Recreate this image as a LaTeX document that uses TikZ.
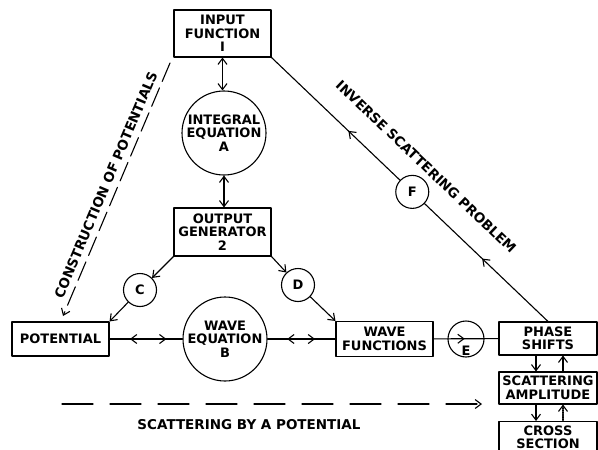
\documentclass[tikz,border=0pt]{standalone}
\usepackage{fontspec}
\setmainfont{DejaVu Sans}
\usetikzlibrary{arrows.meta,decorations.markings}

\begin{document}
\begin{tikzpicture}[x=1pt,y=-1pt,line width=1.1pt,line cap=round,line join=round,
  >={Straight Barb[length=6pt,width=9pt]},
  font=\fontsize{13}{13.5}\selectfont\bfseries,
  box/.style={draw,rectangle,align=center,inner sep=0pt,minimum width=97pt},
  bigc/.style={draw,circle,align=center,inner sep=0pt,minimum size=84pt},
  smallc/.style={draw,circle,inner sep=0pt,minimum size=33pt},
  lbl/.style={font=\fontsize{13.5}{14}\selectfont\bfseries,inner sep=0pt},
  fwd/.style={postaction={decorate},decoration={markings,
    mark=at position #1 with {\arrow{>}}}},
  twoway/.style 2 args={postaction={decorate},decoration={markings,
    mark=at position #1 with {\arrowreversed{>}},
    mark=at position #2 with {\arrow{>}}}},
  backtwo/.style 2 args={postaction={decorate},decoration={markings,
    mark=at position #1 with {\arrowreversed{>}},
    mark=at position #2 with {\arrowreversed{>}}}}]
\path[use as bounding box] (0,0) rectangle (598,450);
\fill[white] (0,0) rectangle (598,450);
\clip (0,0) rectangle (598,450);

% top chain: input -> integral equation -> output generator
\node[box,minimum height=47pt] (inp) at (222.5,33.5) {INPUT\\FUNCTION\\I};
\node[bigc] (ieq) at (224,133) {INTEGRAL\\EQUATION\\A};
\node[box,minimum height=48pt] (outg) at (222.5,232) {OUTPUT\\GENERATOR\\2};
\draw[<->] (inp.south) -- (inp.south |- ieq.north);
\draw[<->] (ieq.south) -- (ieq.south |- outg.north);

% middle row
\node[smallc] (C) at (140,290) {C};
\node[smallc] (D) at (298,285) {D};
\node[box,minimum height=34pt] (pot) at (60.5,339) {POTENTIAL};
\node[bigc] (weq) at (225,339) {WAVE\\EQUATION\\B};
\node[box,minimum height=35pt] (wfn) at (384.5,339) {WAVE\\FUNCTIONS};
\node[smallc,minimum size=36pt,label={[yshift=-12pt]center:E}] (E) at (466,339) {};
\node[box,minimum width=98pt,minimum height=33pt] (phs) at (548,338.5) {PHASE\\SHIFTS};
\node[box,minimum width=98pt,minimum height=32pt] (sca) at (548,388) {SCATTERING\\AMPLITUDE};
\node[box,minimum width=98pt,minimum height=31pt,anchor=north] (crs) at (548,421) {CROSS\\SECTION};

\draw[->] (outg.south west) -- (C);
\draw[->] (C) -- (pot.north east);
\draw[->] (outg.south east) -- (D);
\draw[->] (D) -- (wfn.north west);
\draw[twoway={.28}{.78}] (pot) -- (weq);
\draw[twoway={.29}{.70}] (weq) -- (wfn);
\draw[fwd=.48] (wfn) -- (phs);

% right column
\draw[->] ([xshift=-12pt]phs.south) -- ([xshift=-12pt]sca.north);
\draw[<-] ([xshift=15pt]phs.south) -- ([xshift=15pt]sca.north);
\draw[->] ([xshift=-12pt]sca.south) -- ([xshift=-12pt]crs.north);
\draw[<-,densely dotted] ([xshift=15pt]sca.south) -- ([xshift=15pt]crs.north);

% inverse problem
\draw[backtwo={.278}{.762}] (inp.south east)
  -- node[pos=.49,sloped,above=22pt,lbl] {INVERSE SCATTERING PROBLEM}
     node[pos=.509,smallc,fill=white] (F) {F} (phs.north);

% construction of potentials
\coordinate (cps) at (170,63);
\coordinate (cpe) at (63,316);
\draw[->,dash pattern=on 20pt off 7pt] (cps)
  -- node[sloped,above=6pt,lbl] {CONSTRUCTION OF POTENTIALS} (cpe);

% scattering by a potential
\coordinate (sbs) at (62,404);
\coordinate (sbe) at (482,404);
\draw[->,dash pattern=on 31pt off 17pt] (sbs) -- (sbe);
\node[lbl] (sbp) at (249,424.5) {SCATTERING BY A POTENTIAL};
\end{tikzpicture}
\end{document}
